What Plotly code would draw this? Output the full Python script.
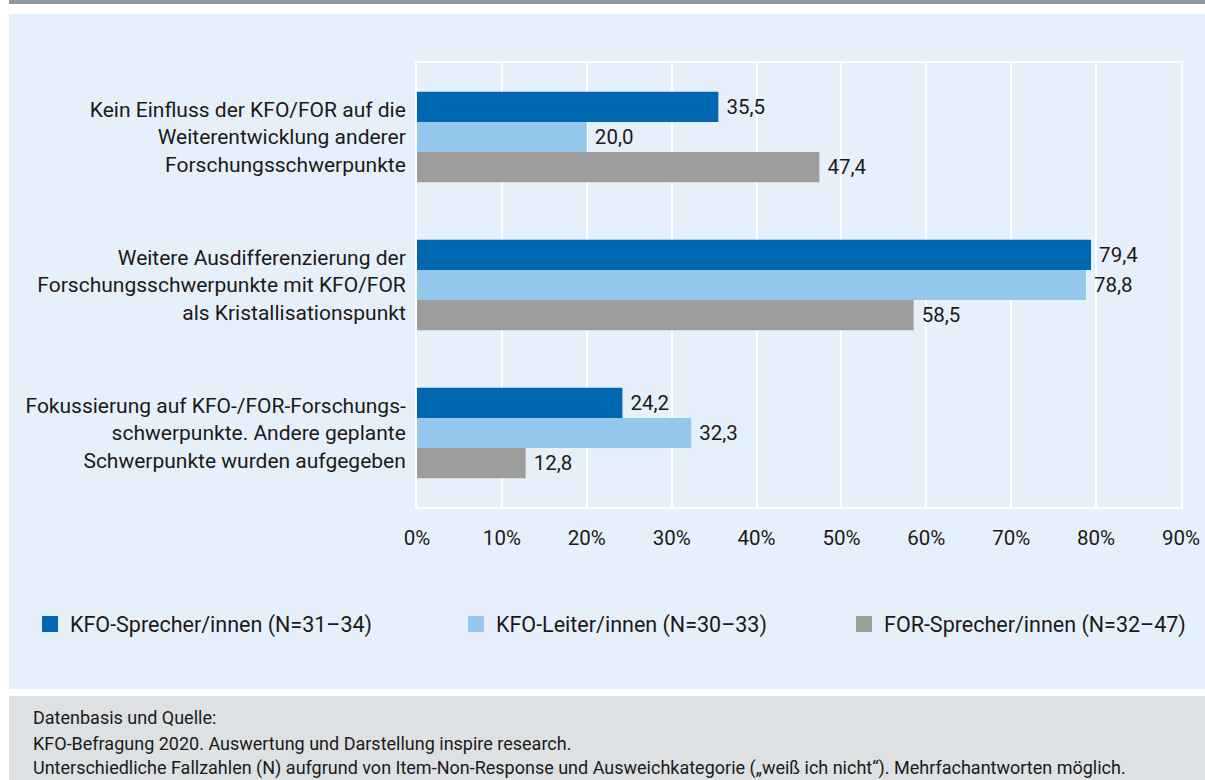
import plotly.graph_objects as go

# ---------------- data ----------------
categories = [
    "Kein Einfluss der KFO/FOR auf die<br>Weiterentwicklung anderer<br>Forschungsschwerpunkte",
    "Weitere Ausdifferenzierung der<br>Forschungsschwerpunkte mit KFO/FOR<br>als Kristallisationspunkt",
    "Fokussierung auf KFO-/FOR-Forschungs-<br>schwerpunkte. Andere geplante<br>Schwerpunkte wurden aufgegeben",
]
series_names = [
    "KFO-Sprecher/innen (N=31–34)",
    "KFO-Leiter/innen (N=30–33)",
    "FOR-Sprecher/innen (N=32–47)",
]
kfo_sprecher = [35.5, 79.4, 24.2]
kfo_leiter = [20.0, 78.8, 32.3]
for_sprecher = [47.4, 58.5, 12.8]
x_ticks = [0, 10, 20, 30, 40, 50, 60, 70, 80, 90]
x_tick_labels = ["0%", "10%", "20%", "30%", "40%", "50%", "60%", "70%", "80%", "90%"]
footnotes = [
    "Datenbasis und Quelle:",
    "KFO-Befragung 2020. Auswertung und Darstellung inspire research.",
    "Unterschiedliche Fallzahlen (N) aufgrund von Item-Non-Response und Ausweichkategorie („weiß ich nicht“). Mehrfachantworten möglich.",
]

# ---------------- style ----------------
W, H = 1205, 780
L, R, T, B = 417, 1181, 63, 507
FONT = "Roboto, Liberation Sans, sans-serif"
colors = ["#0068B1", "#95C7EC", "#9D9D9C"]
PANEL = "#E6F0FA"
TOPBAR = "#8F989D"
FOOTBG = "#DDE1E4"
TXT = "#1A1A1A"


def px_x(px):
    return (px - L) / (R - L)


def px_y(py):
    return (B - py) / (B - T)


series = [kfo_sprecher, kfo_leiter, for_sprecher]
fig = go.Figure()
legend_ids = ["legend", "legend2", "legend3"]
for name, vals, col, lg in zip(series_names, series, colors, legend_ids):
    fig.add_trace(go.Bar(
        y=categories, x=vals, name=name, orientation="h",
        marker=dict(color=col, line=dict(width=0)),
        text=vals, texttemplate="\u00a0%{x:.1f}", textposition="outside",
        textfont=dict(size=20.5, color=TXT, family=FONT),
        cliponaxis=False, showlegend=False,
    ))
    # legend-only entry with a larger square symbol
    fig.add_trace(go.Scatter(
        x=[None], y=[None], mode="markers", name=name,
        marker=dict(symbol="square", size=18, color=col),
        legend=lg, showlegend=True,
    ))

shapes = [
    dict(type="rect", xref="paper", yref="paper", x0=px_x(9), x1=px_x(W), y0=px_y(0), y1=px_y(4),
         fillcolor=TOPBAR, line=dict(width=0), layer="below"),
    dict(type="rect", xref="paper", yref="paper", x0=px_x(9), x1=px_x(W), y0=px_y(14), y1=px_y(689),
         fillcolor=PANEL, line=dict(width=0), layer="below"),
    dict(type="rect", xref="paper", yref="paper", x0=px_x(9), x1=px_x(W), y0=px_y(696), y1=px_y(H),
         fillcolor=FOOTBG, line=dict(width=0), layer="below"),
]

annotations = []
for txt, py in zip(footnotes, [717, 743, 768]):
    annotations.append(dict(
        text=txt, xref="paper", yref="paper", x=px_x(31), y=px_y(py),
        xanchor="left", yanchor="middle", showarrow=False,
        font=dict(size=18, color=TXT, family=FONT),
    ))

legend_common = dict(orientation="h", yanchor="middle", xanchor="left", bgcolor="rgba(0,0,0,0)",
                     font=dict(size=21.5, color=TXT, family=FONT), borderwidth=0)

fig.update_layout(
    width=W, height=H,
    margin=dict(l=L, r=W - R, t=T, b=H - B, pad=0),
    paper_bgcolor="white", plot_bgcolor=PANEL,
    barmode="group", bargap=0.39, bargroupgap=0,
    separators=", ",
    font=dict(family=FONT, size=20, color=TXT),
    shapes=shapes, annotations=annotations,
    legend=dict(x=px_x(30), y=px_y(624), **legend_common),
    legend2=dict(x=px_x(456), y=px_y(624), **legend_common),
    legend3=dict(x=px_x(844), y=px_y(624), **legend_common),
    xaxis=dict(
        range=[0, 90], tickvals=x_ticks, ticktext=x_tick_labels,
        showgrid=True, gridcolor="white", gridwidth=2,
        showline=True, linecolor="white", linewidth=2, mirror=True,
        zeroline=False, ticks="", ticklabelstandoff=11,
        tickfont=dict(size=20.5, color=TXT, family=FONT), automargin=False,
    ),
    yaxis=dict(
        categoryorder="array", categoryarray=categories, autorange="reversed",
        showgrid=False, showline=True, linecolor="white", linewidth=2, mirror=True,
        ticks="", ticklabelstandoff=5,
        tickfont=dict(size=21, color=TXT, family=FONT), automargin=False,
    ),
)

fig.write_html(
    "out.html",
    config={"displayModeBar": False},
    post_script="document.body.style.margin='0';document.body.style.overflow='hidden';",
)
